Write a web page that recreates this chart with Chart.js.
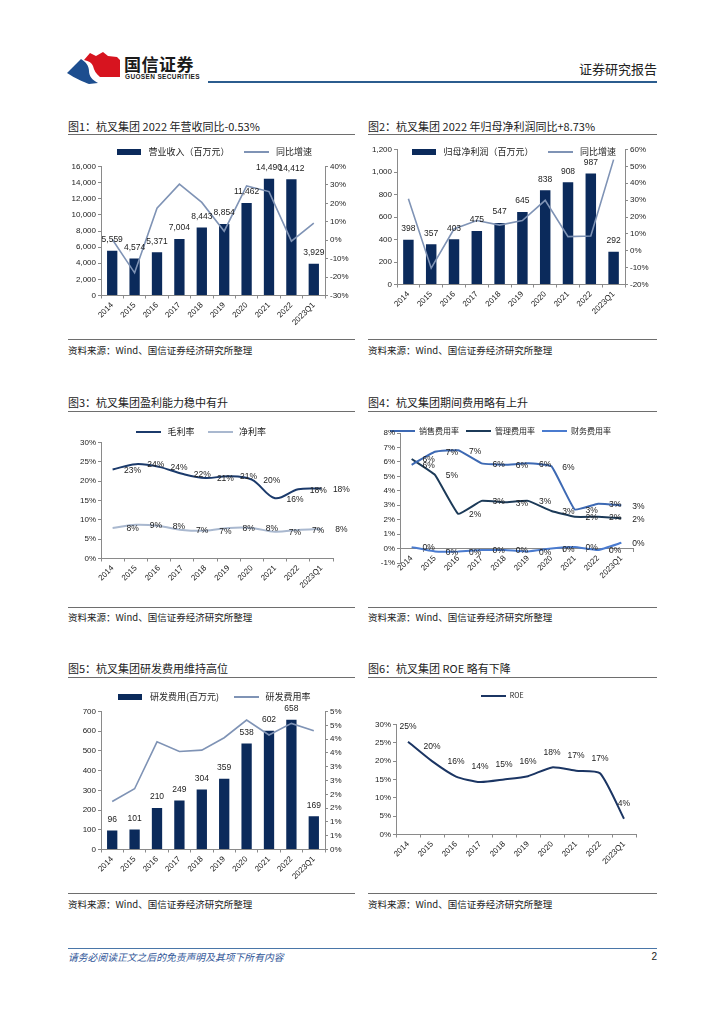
<!DOCTYPE html>
<html>
<head>
<meta charset="utf-8">
<script src="https://cdn.jsdelivr.net/npm/chart.js@4.4.0/dist/chart.umd.min.js"></script>
<style>
body { margin: 0; background: #fff; }
#page { position: relative; width: 724px; height: 1024px; overflow: hidden; font-family: 'Noto Sans CJK SC', sans-serif; color: #222; }
.t { position: absolute; white-space: nowrap; line-height: 14px; }
.title { font-size: 11px; }
.src { font-size: 9.5px; }
.rule { position: absolute; height: 0; border-top: 1.3px solid #6e6e6e; }
.box { position: absolute; }
</style>
</head>
<body>
<div id="page">
  <!-- header -->
  <svg class="box" style="left:0;top:0" width="724" height="100">
    <path d="M67,73 L81,59 C86,62 89,66 89,71 C89,76 92,80 98,83 L89,84 C84,82 76,79 67,73 Z" fill="#1d4e8f"/>
    <path d="M84,60 L90,53 L96,56 L103,52 L108,56 L117,57 L120,60 L120,77 L100,77 C96,74 94,70 93,66 C92,63 89,61 84,60 Z" fill="#d7141f"/>
  </svg>
  <div class="t" style="left:124px;top:55px;font-size:17px;line-height:18px;font-weight:bold;letter-spacing:0.5px;color:#1a1a1a">国信证券</div>
  <div class="t" style="left:125px;top:73px;font-size:6.5px;line-height:8px;font-weight:bold;font-family:'Liberation Sans',Arial,sans-serif;letter-spacing:0.35px;color:#1a1a1a">GUOSEN SECURITIES</div>
  <div class="t" style="right:67px;top:61px;font-size:13px;line-height:16px;color:#222">证券研究报告</div>
  <div class="box" style="left:208px;top:81px;width:449px;height:2px;background:#2b5c8e"></div>

  <!-- row 1 -->
  <div class="t title" style="left:68px;top:119px">图1：杭叉集团 2022 年营收同比-0.53%</div>
  <div class="t title" style="left:368px;top:119px">图2：杭叉集团 2022 年归母净利润同比+8.73%</div>
  <div class="rule" style="left:68px;top:134px;width:287px"></div>
  <div class="rule" style="left:368px;top:134px;width:289px"></div>
  <div class="box" id="b1"><canvas id="c1"></canvas></div>
  <div class="box" id="b2"><canvas id="c2"></canvas></div>
  <div class="rule" style="left:68px;top:339px;width:287px"></div>
  <div class="rule" style="left:368px;top:339px;width:289px"></div>
  <div class="t src" style="left:68px;top:343px">资料来源：Wind、国信证券经济研究所整理</div>
  <div class="t src" style="left:368px;top:343px">资料来源：Wind、国信证券经济研究所整理</div>

  <!-- row 2 -->
  <div class="t title" style="left:68px;top:395px">图3：杭叉集团盈利能力稳中有升</div>
  <div class="t title" style="left:368px;top:395px">图4：杭叉集团期间费用略有上升</div>
  <div class="rule" style="left:68px;top:411px;width:287px"></div>
  <div class="rule" style="left:368px;top:411px;width:289px"></div>
  <div class="box" id="b3"><canvas id="c3"></canvas></div>
  <div class="box" id="b4"><canvas id="c4"></canvas></div>
  <div class="rule" style="left:68px;top:607px;width:287px"></div>
  <div class="rule" style="left:368px;top:607px;width:289px"></div>
  <div class="t src" style="left:68px;top:610px">资料来源：Wind、国信证券经济研究所整理</div>
  <div class="t src" style="left:368px;top:610px">资料来源：Wind、国信证券经济研究所整理</div>

  <!-- row 3 -->
  <div class="t title" style="left:68px;top:661px">图5：杭叉集团研发费用维持高位</div>
  <div class="t title" style="left:368px;top:661px">图6：杭叉集团 ROE 略有下降</div>
  <div class="rule" style="left:68px;top:677px;width:287px"></div>
  <div class="rule" style="left:368px;top:677px;width:289px"></div>
  <div class="box" id="b5"><canvas id="c5"></canvas></div>
  <div class="box" id="b6"><canvas id="c6"></canvas></div>
  <div class="rule" style="left:68px;top:893px;width:287px"></div>
  <div class="rule" style="left:368px;top:893px;width:289px"></div>
  <div class="t src" style="left:68px;top:897px">资料来源：Wind、国信证券经济研究所整理</div>
  <div class="t src" style="left:368px;top:897px">资料来源：Wind、国信证券经济研究所整理</div>

  <!-- footer -->
  <div class="box" style="left:68px;top:948px;width:589px;height:1px;background:#4a76a8"></div>
  <div class="t" style="left:68px;top:950px;font-size:9.8px;font-style:italic;color:#2f5597">请务必阅读正文之后的免责声明及其项下所有内容</div>
  <div class="t" style="right:67px;top:950px;font-size:10px;font-family:'Liberation Sans',Arial,sans-serif">2</div>
</div>

<script>
// data
const years = ['2014', '2015', '2016', '2017', '2018', '2019', '2020', '2021', '2022', '2023Q1'];

const revenue = [5559, 4574, 5371, 7004, 8443, 8854, 11462, 14490, 14412, 3929];
const revenueYoY = [0.5, -17.7, 17.4, 30.4, 20.5, 4.9, 29.5, 26.4, -0.5, 9.3];

const netProfit = [398, 357, 403, 475, 547, 645, 838, 908, 987, 292];
const netProfitYoY = [30.8, -10.3, 12.9, 17.9, 15.2, 17.9, 29.9, 8.4, 8.7, 54.0];

const grossMargin = [23.0, 24.4, 23.7, 21.9, 20.8, 21.3, 20.4, 15.6, 17.9, 18.1];
const netMargin = [7.9, 8.7, 8.4, 7.4, 7.2, 7.9, 7.9, 6.9, 7.4, 7.6];

const sellingRate = [5.8, 6.7, 6.8, 5.9, 5.8, 5.9, 5.7, 2.7, 3.1, 3.0];
const adminRate = [6.2, 5.1, 2.4, 3.3, 3.2, 3.3, 2.6, 2.2, 2.2, 2.1];
const financeRate = [0.1, -0.2, -0.2, -0.1, -0.1, -0.2, 0.0, 0.1, -0.1, 0.4];

const rdExpense = [96, 101, 210, 249, 304, 359, 538, 602, 658, 169];
const rdRate = [1.74, 2.2, 3.9, 3.55, 3.6, 4.05, 4.69, 4.15, 4.57, 4.3];

const roe = [25.3, 20.0, 15.8, 14.3, 15.0, 15.9, 18.3, 17.4, 16.7, 4.3];

const NUM_FONT = "'Liberation Sans', Arial, sans-serif";
const CJK_FONT = "'Noto Sans CJK SC', sans-serif";
const AXIS = '#8a8a8a';
const NAVY = '#0b2a5b';
const GREYBLUE = '#7f93b5';

// legend icons as small canvases (bar = block, line = stroke)
function icon(color, w, h) {
    const c = document.createElement('canvas');
    c.width = w;
    c.height = h;
    const g = c.getContext('2d');
    g.fillStyle = color;
    g.fillRect(0, 0, w, h);
    return c;
}

// keep legend at a fixed height so the plot area lands where it should,
// and draw it without clipping (it may sit over the plot)
const fixLegend = {
    id: 'fixLegend',
    beforeLayout(chart, args, opts) {
        const lg = chart.legend;
        if (!lg) return;
        lg._fixH = opts.height;
        if (!lg._wrapped) {
            const fit = lg.fit.bind(lg);
            lg.fit = function () { fit(); this.height = this._fixH; };
            lg.draw = function () { if (this.options.display) this._draw(); };
            lg._wrapped = true;
        }
    }
};

// value labels next to bars / points
const valueLabels = {
    id: 'valueLabels',
    afterDatasetsDraw(chart) {
        const ctx = chart.ctx;
        chart.data.datasets.forEach((ds, i) => {
            if (!ds.labelFmt) return;
            const meta = chart.getDatasetMeta(i);
            ctx.save();
            ctx.font = '8.5px ' + NUM_FONT;
            ctx.fillStyle = '#222';
            ctx.textAlign = 'center';
            ctx.textBaseline = 'middle';
            meta.data.forEach((el, j) => {
                const p = el.getProps(['x', 'y'], true);
                ctx.fillText(ds.labelFmt(ds.data[j]), p.x + (ds.labelDx || 0), p.y + (ds.labelDy || 0));
            });
            ctx.restore();
        });
    }
};

const pct = v => Math.round(v) + '%';
const thousands = v => v.toLocaleString('en-US');

// f: box edges, plot area edges, legend centre (all page px)
function place(id, f) {
    const top = f.legendY - f.pad - f.fs / 2;
    const el = document.getElementById(id);
    el.style.left = f.l + 'px';
    el.style.top = top + 'px';
    el.style.width = (f.r - f.l) + 'px';
    el.style.height = (f.b - top) + 'px';
    return {
        yw: f.area[0] - f.l,
        rw: f.r - f.area[1],
        lh: f.area[2] - top,
        xh: f.b - f.area[3],
        fs: f.fs,
        pad: f.pad
    };
}

function catAxis(h, extra) {
    return Object.assign({
        type: 'category',
        offset: true,
        grid: { offset: true, drawOnChartArea: false, tickLength: 3, color: AXIS },
        border: { color: AXIS },
        ticks: { autoSkip: false, minRotation: 45, maxRotation: 45, padding: 2, color: '#222', font: { family: NUM_FONT, size: 8 } },
        afterFit: s => { s.height = h; }
    }, extra || {});
}

function valAxis(pos, w, min, max, step, fmt) {
    return {
        position: pos,
        min: min,
        max: max,
        ticks: { stepSize: step, callback: fmt, color: '#222', padding: 2, font: { family: NUM_FONT, size: 8 } },
        grid: { drawOnChartArea: false, tickLength: 3, color: AXIS },
        border: { color: AXIS },
        afterFit: s => { s.width = w; }
    };
}

function legendCfg(fs, pw, pad) {
    return {
        position: 'top',
        labels: {
            usePointStyle: true,
            pointStyleWidth: pw,
            padding: pad,
            color: '#222',
            font: { family: CJK_FONT, size: fs },
            generateLabels(chart) {
                const items = Chart.defaults.plugins.legend.labels.generateLabels(chart);
                items.forEach(it => { it.pointStyle = chart.data.datasets[it.datasetIndex].legendIcon; });
                items.sort((a, b) => a.datasetIndex - b.datasetIndex);
                return items;
            }
        }
    };
}

function lineSet(label, data, color, width, tension, extra) {
    return Object.assign({
        type: 'line', label: label, data: data, borderColor: color, borderWidth: width,
        pointRadius: 0, tension: tension, order: 0, legendIcon: icon(color, 25, 2)
    }, extra || {});
}

function barSet(label, data, yAxis, extra) {
    return Object.assign({
        type: 'bar', label: label, data: data, backgroundColor: NAVY, yAxisID: yAxis,
        categoryPercentage: 1, barPercentage: 0.46, order: 1, legendIcon: icon(NAVY, 24, 6),
        labelFmt: thousands, labelDy: -11
    }, extra || {});
}

function build(canvas, d, pw, datasets, scales, padding) {
    return new Chart(canvas, {
        data: { labels: years, datasets: datasets },
        options: {
            animation: false,
            responsive: true,
            maintainAspectRatio: false,
            layout: { padding: padding || 0 },
            plugins: {
                legend: legendCfg(d.fs, pw, d.pad),
                tooltip: { enabled: false },
                fixLegend: { height: d.lh }
            },
            scales: scales
        },
        plugins: [fixLegend, valueLabels]
    });
}

// 图1 营业收入
let d = place('b1', { l: 68, r: 358, b: 338, area: [101, 325, 166, 295], legendY: 151, pad: 12, fs: 9 });
build('c1', d, 30, [
    barSet('营业收入（百万元）', revenue, 'y'),
    lineSet('同比增速', revenueYoY, GREYBLUE, 1.6, 0, { yAxisID: 'y1' })
], {
    x: catAxis(d.xh),
    y: valAxis('left', d.yw, 0, 16000, 2000, thousands),
    y1: valAxis('right', d.rw, -30, 40, 10, v => v + '%')
});

// 图2 归母净利润
d = place('b2', { l: 368, r: 657, b: 338, area: [397, 625, 149, 284], legendY: 151, pad: 12, fs: 9 });
build('c2', d, 30, [
    barSet('归母净利润（百万元）', netProfit, 'y'),
    lineSet('同比增速', netProfitYoY, GREYBLUE, 1.6, 0, { yAxisID: 'y1' })
], {
    x: catAxis(d.xh),
    y: valAxis('left', d.yw, 0, 1200, 200, thousands),
    y1: valAxis('right', d.rw, -20, 60, 10, v => v + '%')
});

// 图3 毛利率 / 净利率
d = place('b3', { l: 68, r: 358, b: 606, area: [101, 333, 442, 558], legendY: 431, pad: 12, fs: 9 });
build('c3', d, 28, [
    lineSet('毛利率', grossMargin, '#1b3a6b', 2, 0.35, { labelFmt: pct, labelDx: 20, labelDy: 1 }),
    lineSet('净利率', netMargin, '#a9b8cf', 2, 0.35, { labelFmt: pct, labelDx: 20, labelDy: 1 })
], {
    x: catAxis(d.xh),
    y: valAxis('left', d.yw, 0, 30, 5, v => v + '%')
}, { right: d.rw });

// 图4 期间费用率
d = place('b4', { l: 368, r: 657, b: 606, area: [400, 633, 433, 563], legendY: 431, pad: 7, fs: 8 });
build('c4', d, 25, [
    lineSet('销售费用率', sellingRate, '#3d69b3', 2, 0.1, { labelFmt: pct, labelDx: 17, labelDy: 1 }),
    lineSet('管理费用率', adminRate, '#1c3a58', 2, 0.1, { labelFmt: pct, labelDx: 17, labelDy: 1 }),
    lineSet('财务费用率', financeRate, '#4a7bcf', 2, 0.1, { labelFmt: pct, labelDx: 17, labelDy: 1 })
], {
    x: catAxis(d.xh, { position: { y: 0 } }),
    y: valAxis('left', d.yw, -1, 8, 1, v => v + '%')
}, { right: d.rw, bottom: d.xh });

// 图5 研发费用
d = place('b5', { l: 68, r: 358, b: 892, area: [101, 325, 711, 849], legendY: 696, pad: 12, fs: 9 });
build('c5', d, 30, [
    barSet('研发费用(百万元)', rdExpense, 'y'),
    lineSet('研发费用率', rdRate, GREYBLUE, 1.6, 0, { yAxisID: 'y1' })
], {
    x: catAxis(d.xh),
    y: valAxis('left', d.yw, 0, 700, 100, thousands),
    y1: valAxis('right', d.rw, 0, 5, 0.5, v => Math.round(v + 1e-9) + '%')
});

// 图6 ROE
d = place('b6', { l: 368, r: 657, b: 892, area: [396, 636, 724, 834], legendY: 695, pad: 12, fs: 7 });
build('c6', d, 26, [
    lineSet('ROE', roe, '#1b3563', 2, 0.2, { labelFmt: pct, labelDx: 0, labelDy: -15 })
], {
    x: catAxis(d.xh),
    y: valAxis('left', d.yw, 0, 30, 5, v => v + '%')
}, { right: d.rw });
</script>
</body>
</html>
